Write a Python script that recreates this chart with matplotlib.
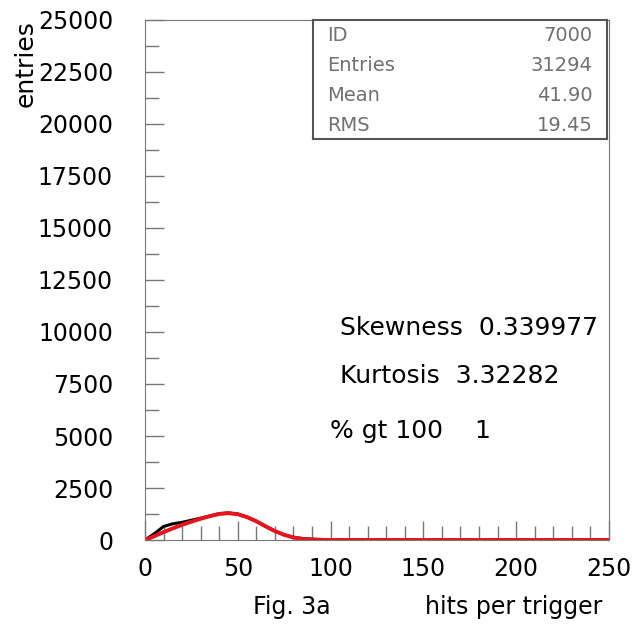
import matplotlib.pyplot as plt
from matplotlib.ticker import MultipleLocator

# hits per trigger histogram
hits = [0, 5, 10, 15, 20, 25, 30, 35, 40, 45, 50, 55, 60, 65, 70, 75, 80, 85,
        90, 95, 100, 110, 120, 130, 150, 200, 250]
entries = [0, 300, 650, 780, 850, 950, 1050, 1150, 1270, 1300, 1250, 1100, 900,
           650, 430, 250, 130, 70, 40, 25, 15, 8, 5, 3, 1, 0, 0]
fit = [0, 180, 380, 560, 730, 880, 1020, 1150, 1250, 1290, 1240, 1100, 900,
       660, 430, 250, 120, 50, 20, 8, 3, 0, 0, 0, 0, 0, 0]

stat_names = ["ID", "Entries", "Mean", "RMS"]
stat_values = ["7000", "31294", "41.90", "19.45"]

fig = plt.figure(figsize=(6.33, 6.24), dpi=100)
ax = fig.add_axes([0.229, 0.1346, 0.733, 0.8334])

ax.plot(hits, entries, color="black", lw=2.2)
ax.plot(hits, fit, color="#e8141c", lw=2.8)

ax.set_xlim(0, 250)
ax.set_ylim(0, 25000)
ax.xaxis.set_major_locator(MultipleLocator(50))
ax.xaxis.set_minor_locator(MultipleLocator(10))
ax.yaxis.set_major_locator(MultipleLocator(2500))
ax.yaxis.set_minor_locator(MultipleLocator(1250))
ax.tick_params(which="both", direction="in", color="#777777", labelsize=17)
ax.tick_params(axis="y", pad=23)
ax.tick_params(axis="x", pad=12)
ax.tick_params(which="major", length=14, width=1)
ax.tick_params(which="minor", length=10, width=1)
for s in ax.spines.values():
    s.set_color("#777777")

fig.text(0.04, 0.968, "entries", rotation=90, ha="center", va="top", fontsize=18)
fig.text(0.461, 0.016, "Fig. 3a", ha="center", va="baseline", fontsize=17)
fig.text(0.812, 0.016, "hits per trigger", ha="center", va="baseline", fontsize=17)

# stats box
bx = fig.add_axes([313 / 633, 1 - 139 / 624, 294 / 633, 119 / 624])
bx.set_xticks([])
bx.set_yticks([])
for s in bx.spines.values():
    s.set_color("#555555")
    s.set_linewidth(1.5)
for i in range(len(stat_names)):
    yy = 0.866 - i * 0.25
    bx.text(0.048, yy, stat_names[i], color="#707070", fontsize=14, va="center")
    bx.text(0.95, yy, stat_values[i], color="#707070", fontsize=14, va="center", ha="right")

ax.text(0.42, 0.394, "Skewness  0.339977", transform=ax.transAxes, fontsize=18, va="baseline")
ax.text(0.42, 0.302, "Kurtosis  3.32282", transform=ax.transAxes, fontsize=18, va="baseline")
ax.text(0.399, 0.196, "% gt 100    1", transform=ax.transAxes, fontsize=18, va="baseline")

fig.savefig("out.png", dpi=100)
